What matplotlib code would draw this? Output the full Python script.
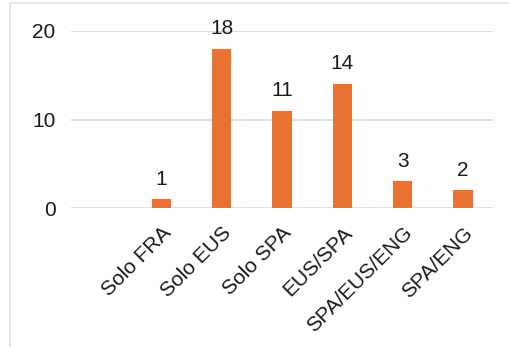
import matplotlib.pyplot as plt
from matplotlib.lines import Line2D

plt.rcParams['font.family'] = ['Liberation Sans', 'DejaVu Sans']

# first slot of the category axis is left empty in the original chart
categories = ["Solo FRA", "Solo EUS", "Solo SPA", "EUS/SPA", "SPA/EUS/ENG", "SPA/ENG"]
values = [1, 18, 11, 14, 3, 2]
yticks = [0, 10, 20]

W, H = 510, 347
fig = plt.figure(figsize=(W / 100, H / 100), dpi=100)
ax = fig.add_axes([71 / W, 1 - 208 / H, (493 - 71) / W, (208 - 31) / H])

pos = list(range(1, len(categories) + 1))
ax.bar(pos, values, width=0.32, color="#E97132", zorder=3)
for x, v in zip(pos, values):
    ax.text(x, v + 1.2, str(v), ha="center", va="bottom", fontsize=15, color="#1A1A1A")

ax.set_xlim(-0.5, len(categories) + 0.5)
ax.set_ylim(0, 20)
ax.set_yticks(yticks)
ax.set_yticklabels([str(t) for t in yticks], fontsize=15, color="#1A1A1A")
ax.yaxis.grid(True, color="#D9D9D9", linewidth=1.2, zorder=0)
ax.set_xticks(pos)
ax.set_xticklabels(categories, rotation=45, ha="right", rotation_mode="anchor",
                   fontsize=15, color="#1A1A1A")
ax.tick_params(axis="both", length=0)
ax.tick_params(axis="x", pad=11)
ax.tick_params(axis="y", pad=11)
for s in ax.spines.values():
    s.set_visible(False)

# light frame around the chart area (top and left edges visible)
fig.add_artist(Line2D([10 / W, 1], [1 - 3 / H, 1 - 3 / H], color="#E3E3E3", linewidth=1.2))
fig.add_artist(Line2D([10 / W, 10 / W], [0, 1 - 3 / H], color="#E3E3E3", linewidth=1.2))

fig.savefig("out.png", dpi=100)
